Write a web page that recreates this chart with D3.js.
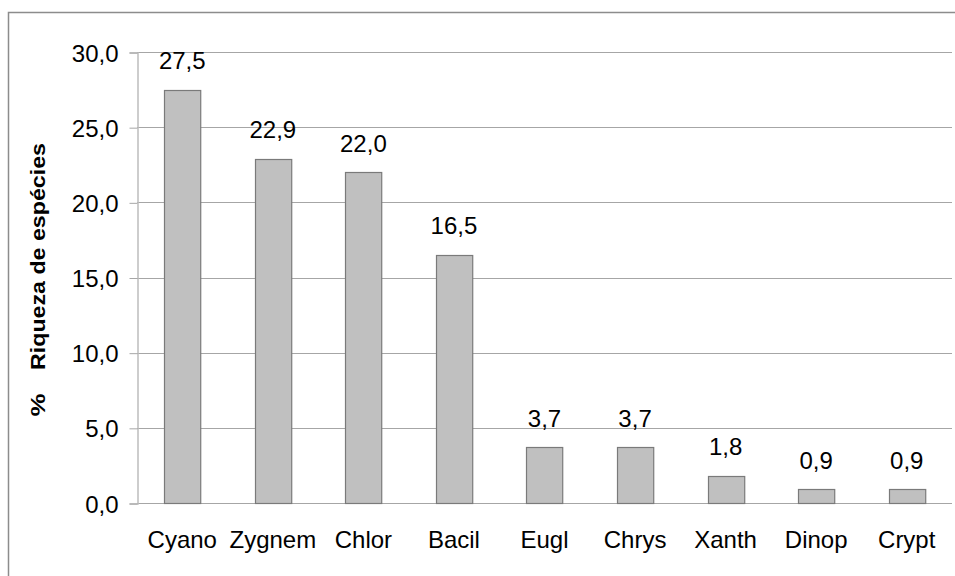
<!DOCTYPE html>
<html>
<head>
<meta charset="utf-8">
<script src="https://cdn.jsdelivr.net/npm/d3@7"></script>
<style>
  body { margin: 0; background: #fff; }
  text { font-family: "Liberation Sans", Arial, sans-serif; fill: #000; }
</style>
</head>
<body>
<svg id="chart"></svg>
<script>
// categories and values (% species richness)
let categories = ["Cyano", "Zygnem", "Chlor", "Bacil", "Eugl", "Chrys", "Xanth", "Dinop", "Crypt"]
let values = [27.5, 22.9, 22.0, 16.5, 3.7, 3.7, 1.8, 0.9, 0.9]
let yTicks = [0, 5, 10, 15, 20, 25, 30]

let w = 955, h = 576
let margin = { top: 52, right: 3, bottom: 73, left: 137 }
let fontSize = "24px"

let svg = d3.select("#chart")
    .attr("width", w)
    .attr("height", h)

// outer frame (runs off the right and bottom edges)
svg.append("rect")
    .attr("x", 8.5).attr("y", 12.5)
    .attr("width", 960).attr("height", 600)
    .attr("fill", "none")
    .attr("stroke", "#8c8c8c")
    .attr("stroke-width", 1.5)

let xScale = d3.scaleBand()
    .domain(categories)
    .range([margin.left, w - margin.right])
    .paddingInner(0.6)
    .paddingOuter(0.3)

let yScale = d3.scaleLinear()
    .domain([0, 30])
    .range([h - margin.bottom, margin.top])

let fmt = v => d3.format(".1f")(v).replace(".", ",")

// gridlines
svg.append("g")
    .selectAll("line")
    .data(yTicks)
    .enter()
    .append("line")
    .attr("x1", margin.left)
    .attr("x2", w - margin.right)
    .attr("y1", d => Math.round(yScale(d)) + 0.5)
    .attr("y2", d => Math.round(yScale(d)) + 0.5)
    .attr("stroke", "#a6a6a6")
    .attr("stroke-width", 1)

// y axis
let yAxis = d3.axisLeft(yScale)
    .tickValues(yTicks)
    .tickSize(8)
    .tickPadding(11)
    .tickFormat(fmt)

let gy = svg.append("g")
    .attr("transform", "translate(" + (margin.left + 0.5) + ",0.5)")
    .call(yAxis)
gy.select(".domain").attr("stroke", "#bdbdbd").attr("stroke-width", 1.5)
gy.selectAll(".tick line").attr("stroke", "#a6a6a6")
gy.selectAll(".tick text")
    .style("font-size", fontSize)
    .style("font-family", "'Liberation Sans', Arial, sans-serif")
    .attr("dy", "0.36em")

// bars
svg.append("g")
    .selectAll("rect")
    .data(values)
    .enter()
    .append("rect")
    .attr("x", (d, i) => Math.round(xScale(categories[i])) + 0.5)
    .attr("y", d => Math.round(yScale(d)) + 0.5)
    .attr("width", xScale.bandwidth())
    .attr("height", d => Math.round(yScale(0)) - Math.round(yScale(d)))
    .attr("fill", "#c0c0c0")
    .attr("stroke", "#7a7a7a")
    .attr("stroke-width", 1.2)

// value labels
svg.append("g")
    .selectAll("text")
    .data(values)
    .enter()
    .append("text")
    .attr("x", (d, i) => xScale(categories[i]) + xScale.bandwidth() / 2)
    .attr("y", d => yScale(d) - 20.5)
    .attr("text-anchor", "middle")
    .style("font-size", fontSize)
    .text(d => fmt(d))

// category labels
svg.append("g")
    .selectAll("text")
    .data(categories)
    .enter()
    .append("text")
    .attr("x", d => xScale(d) + xScale.bandwidth() / 2)
    .attr("y", yScale(0) + 45)
    .attr("text-anchor", "middle")
    .style("font-size", fontSize)
    .text(d => d)

// y axis title, in two pieces like the original ("%" set apart)
svg.append("text")
    .attr("transform", "translate(45,405) rotate(-90)")
    .attr("text-anchor", "middle")
    .attr("textLength", 23)
    .attr("lengthAdjust", "spacingAndGlyphs")
    .style("font-size", "21px")
    .style("font-weight", "bold")
    .text("%")

svg.append("text")
    .attr("transform", "translate(45,256.5) rotate(-90)")
    .attr("text-anchor", "middle")
    .attr("textLength", 227)
    .attr("lengthAdjust", "spacingAndGlyphs")
    .style("font-size", "21px")
    .style("font-weight", "bold")
    .text("Riqueza de espécies")
</script>
</body>
</html>
